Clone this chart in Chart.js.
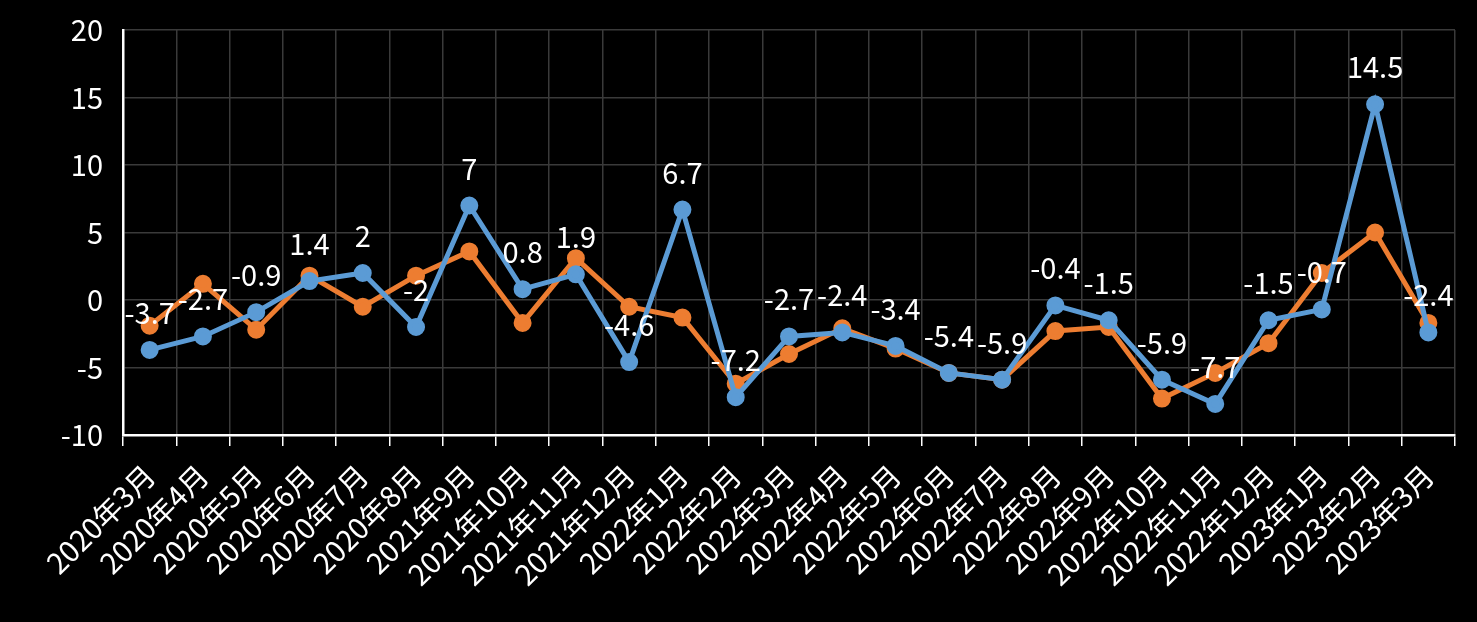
<!DOCTYPE html>
<html>
<head>
<meta charset="utf-8">
<script src="https://cdn.jsdelivr.net/npm/chart.js@4/dist/chart.umd.min.js"></script>
<style>
  html, body { margin: 0; padding: 0; background: #000; }
  #wrap { width: 1477px; height: 622px; }
</style>
</head>
<body>
<div id="wrap"><canvas id="grafico"></canvas></div>
<script>
let meses = ['2020年3月', '2020年4月', '2020年5月', '2020年6月', '2020年7月', '2020年8月', '2021年9月',
  '2021年10月', '2021年11月', '2021年12月', '2022年1月', '2022年2月', '2022年3月', '2022年4月',
  '2022年5月', '2022年6月', '2022年7月', '2022年8月', '2022年9月', '2022年10月', '2022年11月',
  '2022年12月', '2023年1月', '2023年2月', '2023年3月'];
let serieAzul = [-3.7, -2.7, -0.9, 1.4, 2, -2, 7, 0.8, 1.9, -4.6, 6.7, -7.2, -2.7, -2.4, -3.4,
  -5.4, -5.9, -0.4, -1.5, -5.9, -7.7, -1.5, -0.7, 14.5, -2.4];
let serieNaranja = [-1.9, 1.2, -2.2, 1.8, -0.5, 1.8, 3.6, -1.7, 3.1, -0.5, -1.3, -6.2, -4.0, -2.1, -3.6,
  -5.4, -5.9, -2.3, -2.0, -7.3, -5.4, -3.2, 2.0, 5.0, -1.7];
let ticksY = [-10, -5, 0, 5, 10, 15, 20];

let fuente = '"Noto Sans CJK SC", "Noto Sans", sans-serif';

// etiquetas de datos sobre la serie azul
let etiquetas = {
  id: 'etiquetas',
  afterDatasetsDraw(chart) {
    let ctx = chart.ctx;
    let meta = chart.getDatasetMeta(0);
    ctx.save();
    ctx.fillStyle = '#ffffff';
    ctx.font = '29px ' + fuente;
    ctx.textAlign = 'center';
    ctx.textBaseline = 'middle';
    meta.data.forEach((p, i) => {
      ctx.fillText(String(serieAzul[i]), p.x, p.y - 37);
    });
    ctx.restore();
  }
};

let chart = new Chart(document.getElementById('grafico').getContext('2d'), {
  type: 'line',
  data: {
    labels: meses,
    datasets: [{
      label: '系列1',
      data: serieAzul,
      borderColor: '#5B9BD5',
      backgroundColor: '#5B9BD5',
      borderWidth: 5,
      pointRadius: 6.5,
      pointHoverRadius: 6.5,
      tension: 0
    }, {
      label: '系列2',
      data: serieNaranja,
      borderColor: '#ED7D31',
      backgroundColor: '#ED7D31',
      borderWidth: 5,
      pointRadius: 6.5,
      pointHoverRadius: 6.5,
      tension: 0
    }]
  },
  options: {
    responsive: true,
    maintainAspectRatio: false,
    animation: false,
    layout: { padding: { left: 0, right: 22, top: 30, bottom: 0 } },
    plugins: {
      legend: { display: false },
      tooltip: { enabled: false }
    },
    scales: {
      x: {
        offset: true,
        afterFit(axis) { axis.height = 187; },
        grid: {
          offset: true,
          color: '#3a3a3a',
          lineWidth: 1.5,
          tickColor: '#ffffff',
          tickLength: 11,
          drawTicks: true
        },
        border: { color: '#ffffff', width: 2.5 },
        ticks: {
          color: '#ffffff',
          font: { family: fuente, size: 29 },
          minRotation: 45,
          maxRotation: 45,
          autoSkip: false,
          padding: 12
        }
      },
      y: {
        min: -10,
        max: 20,
        afterFit(axis) {
          axis.width = 123;
          axis.paddingTop = 0;
          axis.paddingBottom = 0;
        },
        afterBuildTicks(axis) {
          axis.ticks = ticksY.map(v => ({ value: v }));
        },
        grid: {
          color: '#3a3a3a',
          lineWidth: 1.5,
          drawTicks: false
        },
        border: { color: '#ffffff', width: 2.5 },
        ticks: {
          color: '#ffffff',
          font: { family: fuente, size: 29 },
          padding: 20
        }
      }
    }
  },
  plugins: [etiquetas]
});
</script>
</body>
</html>
